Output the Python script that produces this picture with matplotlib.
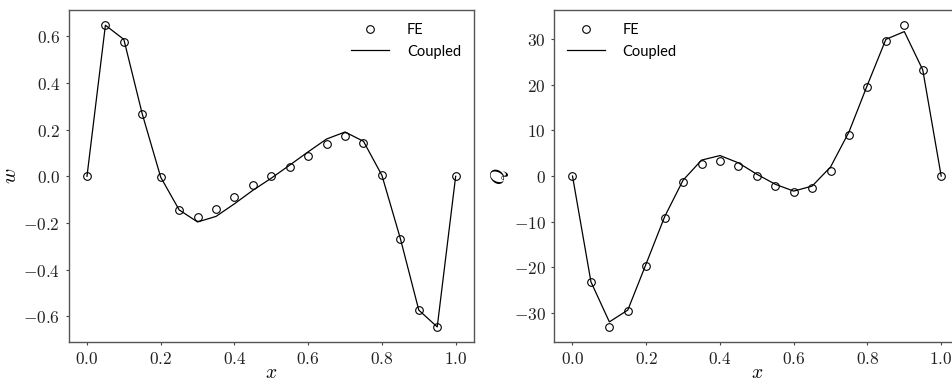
import matplotlib
matplotlib.use("Agg")
import matplotlib.pyplot as plt
from matplotlib.ticker import FuncFormatter

plt.rcParams['mathtext.fontset'] = 'cm'

x = [0.0, 0.05, 0.1, 0.15, 0.2, 0.25, 0.3, 0.35, 0.4, 0.45, 0.5,
     0.55, 0.6, 0.65, 0.7, 0.75, 0.8, 0.85, 0.9, 0.95, 1.0]

# deflection w
w_fe = [0.0, 0.648, 0.574, 0.267, -0.004, -0.144, -0.173, -0.140, -0.087, -0.039, 0.0,
        0.039, 0.087, 0.138, 0.172, 0.143, 0.004, -0.267, -0.574, -0.646, 0.0]
w_coupled = [0.0, 0.648, 0.587, 0.267, -0.004, -0.144, -0.196, -0.172, -0.118, -0.060, -0.008,
             0.048, 0.105, 0.160, 0.190, 0.150, 0.004, -0.267, -0.574, -0.646, 0.0]

# shear force Q
q_fe = [0.0, -23.2, -33.1, -29.7, -19.7, -9.1, -1.3, 2.6, 3.4, 2.3, 0.0,
        -2.2, -3.5, -2.7, 1.2, 9.1, 19.6, 29.7, 33.1, 23.2, 0.0]
q_coupled = [0.0, -23.2, -32.0, -29.4, -19.2, -8.9, -0.9, 3.5, 4.5, 2.9, 0.4,
             -1.8, -3.3, -2.2, 2.0, 9.7, 20.0, 30.0, 31.7, 23.3, 0.0]

fig = plt.figure(figsize=(9.52, 3.85), dpi=100)
ax1 = fig.add_axes([0.072, 0.1117, 0.426, 0.862])
ax2 = fig.add_axes([0.582, 0.1117, 0.426, 0.862])

fmt1 = FuncFormatter(lambda v, p: r'$%.1f$' % v)
fmt0 = FuncFormatter(lambda v, p: r'$%d$' % round(v))

for ax, fe, cp, lab, loc, yf in [(ax1, w_fe, w_coupled, r'$w$', 'upper right', fmt1),
                                  (ax2, q_fe, q_coupled, r'$Q$', 'upper left', fmt0)]:
    ax.plot(x, fe, 'o', mfc='none', mec='black', ms=5.5, mew=0.8, label='FE')
    ax.plot(x, cp, '-', color='black', lw=0.9, label='Coupled')
    ax.set_xlabel(r'$x$', fontsize=14, labelpad=-3)
    ax.set_ylabel(lab, fontsize=15, labelpad=2)
    ax.xaxis.set_major_formatter(fmt1)
    ax.yaxis.set_major_formatter(yf)
    ax.tick_params(labelsize=12.5, length=2.5, color='#444444', labelcolor='#222222')
    ax.tick_params(axis='x', pad=3)
    for s in ax.spines.values():
        s.set_color('#555555')
        s.set_linewidth(1.0)
    ax.legend(loc=loc, frameon=False, handlelength=2.6, handletextpad=1.2,
              prop={'family': 'Lato', 'size': 10.5})

fig.savefig('out.png', dpi=100)
